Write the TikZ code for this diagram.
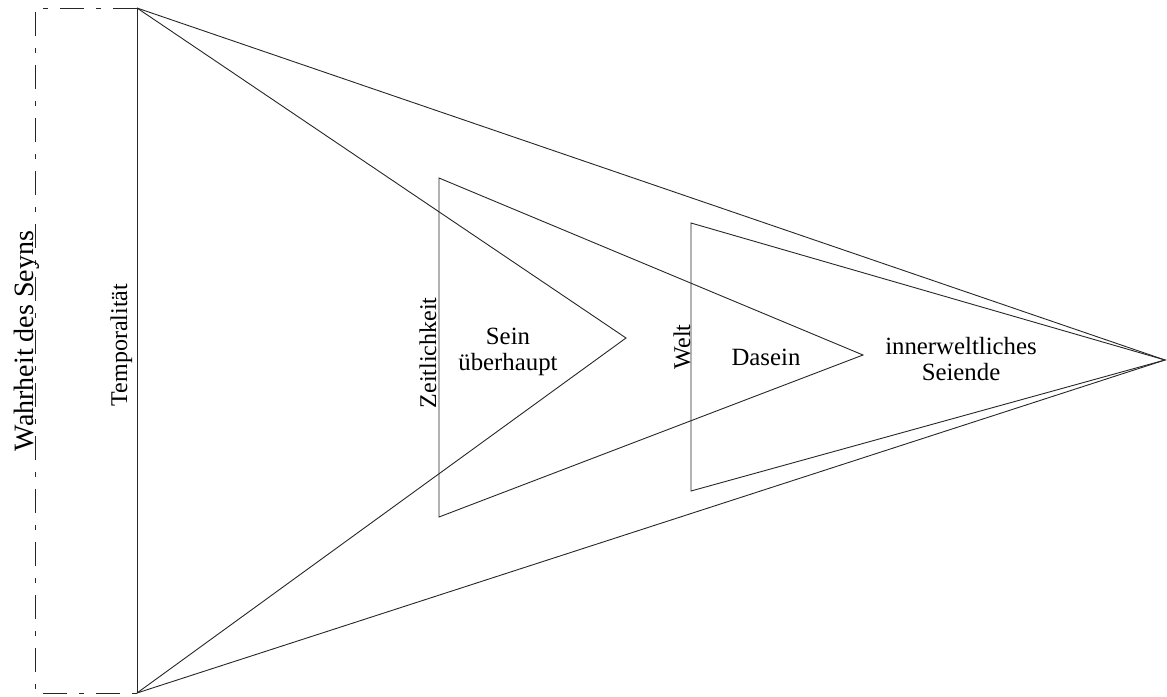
\documentclass[tikz,border=0pt]{standalone}
\usepackage{fontspec}
\setmainfont{Liberation Serif}
\begin{document}
\begin{tikzpicture}[x=1pt,y=-1pt,
  edge/.style={draw=black!85, line width=0.9pt, line join=miter},
  frame/.style={draw=black!85, line width=0.9pt, dash pattern=on 24pt off 12pt on 5pt off 12pt},
  vlabel/.style={rotate=90, anchor=base, inner sep=0pt, font=\fontsize{24}{26}\selectfont},
  hlabel/.style={align=center, inner sep=0pt, anchor=base, font=\fontsize{24.8}{26}\selectfont}]
  \useasboundingbox (0,0) rectangle (1167,696);

  % corner points of the nested triangles
  \coordinate (r1) at (35,8);
  \coordinate (r2) at (35,693);
  \coordinate (t1) at (137,8);
  \coordinate (t2) at (137,693);
  \coordinate (apex) at (1165,360);
  \coordinate (sein) at (626,338);
  \coordinate (z1) at (439,178);
  \coordinate (z2) at (439,517);
  \coordinate (da) at (863,355);
  \coordinate (w1) at (691,223);
  \coordinate (w2) at (691,491);

  % outer dash-dotted frame
  \draw[frame] (t1) -- (r1) -- (r2) -- (t2);

  % Temporalitaet: vertical edge with both apices
  \draw[edge] (t1) -- (t2);
  \draw[edge] (t1) -- (apex) -- (t2);
  \draw[edge] (t1) -- (sein) -- (t2);

  % Zeitlichkeit triangle
  \draw[edge] (z1) -- (da) -- (z2) -- cycle;

  % Welt triangle
  \draw[edge] (w1) -- (apex) -- (w2) -- cycle;

  % labels (the base anchor of a two-line node sits on its last line)
  \node[vlabel, font=\fontsize{28}{30}\selectfont] (wahr) at (33,341) {Wahrheit des Seyns};
  \node[vlabel] (temp) at (127,345) {Temporalität};
  \node[vlabel] (zeit) at (436,353) {Zeitlichkeit};
  \node[vlabel] (welt) at (690,347) {Welt};
  \node[hlabel] (sn) at (508,370) {Sein\\überhaupt};
  \node[hlabel] (ds) at (766,365) {Dasein};
  \node[hlabel] (iw) at (961,380) {innerweltliches\\Seiende};
\end{tikzpicture}
\end{document}
